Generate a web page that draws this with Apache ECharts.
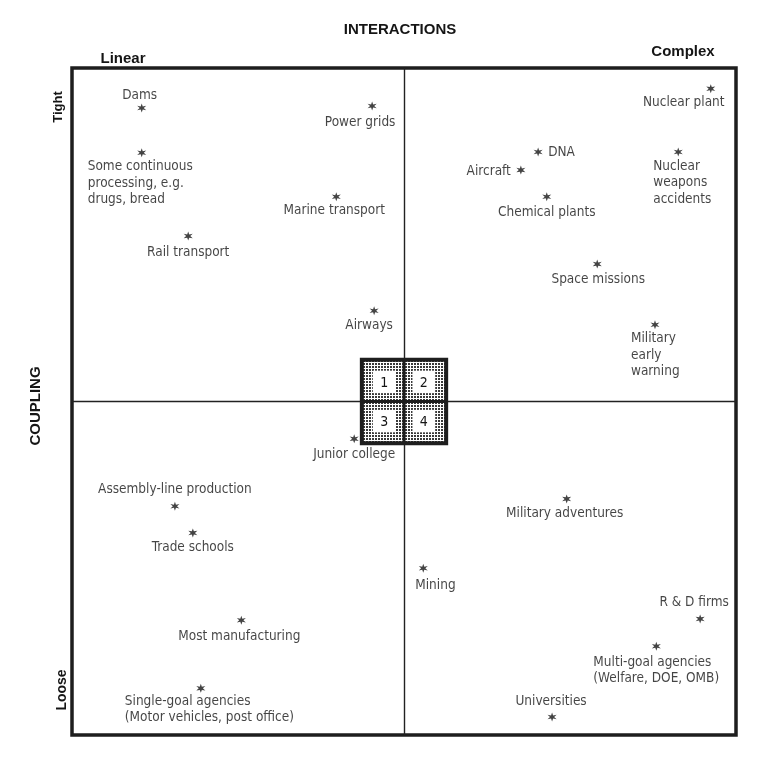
<!DOCTYPE html>
<html>
<head>
<meta charset="utf-8">
<script src="https://cdn.jsdelivr.net/npm/echarts@6/dist/echarts.min.js"></script>
<style>html,body{margin:0;padding:0;background:#fff}#chart{width:769px;height:770px}</style>
</head>
<body>
<div id="chart"></div>
<script>
// ---- data: interaction complexity (x, 0..10) vs coupling tightness (y, 0..10)
const systems = [
  "Dams", "Some continuous\nprocessing, e.g.\ndrugs, bread", "Rail transport", "Power grids",
  "Marine transport", "Airways", "DNA", "Aircraft", "Chemical plants", "Nuclear plant",
  "Nuclear\nweapons\naccidents", "Space missions", "Military\nearly\nwarning", "Junior college",
  "Assembly-line production", "Trade schools", "Military adventures", "Mining", "R & D firms",
  "Multi-goal agencies\n(Welfare, DOE, OMB)", "Most manufacturing",
  "Single-goal agencies\n(Motor vehicles, post office)", "Universities"
];
const interactions = [1.05, 1.05, 1.75, 4.52, 3.98, 4.55, 7.02, 6.76, 7.15, 9.62, 9.13, 7.91, 8.78, 4.25, 1.55, 1.82, 7.45, 5.29, 9.46, 8.80, 2.55, 1.94, 7.23];
const coupling     = [9.40, 8.73, 7.48, 9.43, 8.07, 6.36, 8.74, 8.47, 8.07, 9.69, 8.74, 7.06, 6.15, 4.44, 3.43, 3.03, 3.54, 2.50, 1.74, 1.33, 1.72, 0.70, 0.27];
const quadrantCenter = [5, 5];
const quadrantNumbers = ["1", "2", "3", "4"];
const xAxisTitle = "INTERACTIONS", yAxisTitle = "COUPLING";
const xEnds = ["Linear", "Complex"], yEnds = ["Tight", "Loose"];

// ---- label placement (style only): [align, dx, dy of first line centre]
const labelPlace = [
  ["center", -2, -13], ["left", -54, 14], ["center", 0, 16], ["center", -12, 16],
  ["center", -2, 14], ["center", -5, 15], ["left", 10, 0], ["right", -10, 1],
  ["center", 0, 16], ["center", -27, 14], ["left", -25, 14], ["center", 1, 15],
  ["left", -24, 14], ["center", 0, 16], ["center", 0, -17], ["center", 0, 15],
  ["center", -2, 15], ["left", -8, 17], ["center", -6, -16], ["left", -63, 16],
  ["center", -2, 16], ["left", -76, 13], ["center", -1, -15]
];

const LH = 16.5;
const FONT = '"DejaVu Sans Condensed","Liberation Sans Narrow","Roboto Condensed",sans-serif';
const INK = '#151515';
const STAR = 'path://M10 0 L12 6.5 L18.66 5 L14 10 L18.66 15 L12 13.5 L10 20 L8 13.5 L1.34 15 L6 10 L1.34 5 L8 6.5 Z';

const points = systems.map((n, i) => ({
  name: n,
  value: [interactions[i], coupling[i]],
  label: {
    show: true, position: 'inside', align: labelPlace[i][0], verticalAlign: 'top',
    offset: [labelPlace[i][1], labelPlace[i][2] - LH / 2]
  }
}));

// stipple pattern
const pc = document.createElement('canvas');
pc.width = 3; pc.height = 3;
const pctx = pc.getContext('2d');
pctx.fillStyle = '#fff'; pctx.fillRect(0, 0, 3, 3);
pctx.fillStyle = '#3a3a3a';
pctx.fillRect(0, 0, 2, 2);

const chart = echarts.init(document.getElementById('chart'), null, {renderer: 'canvas'});
const titleFont = 'bold 15px "Liberation Sans", Arial, sans-serif';
chart.setOption({
  backgroundColor: '#fff',
  animation: false,
  grid: {left: 72, top: 68, width: 664, height: 667, show: true, borderWidth: 3.5, borderColor: '#1e1e1e', backgroundColor: 'transparent'},
  xAxis: {type: 'value', min: 0, max: 10, show: false},
  yAxis: {type: 'value', min: 0, max: 10, show: false},
  graphic: [
    {type: 'text', x: 400, y: 30, style: {text: xAxisTitle, font: titleFont, fill: INK, align: 'center', verticalAlign: 'middle'}},
    {type: 'text', x: 123, y: 59, style: {text: xEnds[0], font: titleFont, fill: INK, align: 'center', verticalAlign: 'middle'}},
    {type: 'text', x: 683, y: 52, style: {text: xEnds[1], font: titleFont, fill: INK, align: 'center', verticalAlign: 'middle'}},
    {type: 'text', x: 36, y: 406, rotation: Math.PI / 2, style: {text: yAxisTitle, font: titleFont, fill: INK, align: 'center', verticalAlign: 'middle'}},
    {type: 'text', x: 58, y: 107, rotation: Math.PI / 2, style: {text: yEnds[0], font: 'bold 13px "Liberation Sans", Arial, sans-serif', fill: INK, align: 'center', verticalAlign: 'middle'}},
    {type: 'text', x: 62, y: 690, rotation: Math.PI / 2, style: {text: yEnds[1], font: 'bold 14px "Liberation Sans", Arial, sans-serif', fill: INK, align: 'center', verticalAlign: 'middle'}}
  ],
  series: [
    {
      type: 'scatter',
      symbol: STAR,
      symbolSize: 9,
      itemStyle: {color: INK},
      label: {color: INK, fontFamily: FONT, fontSize: 13.5, lineHeight: LH, formatter: p => p.name},
      data: points,
      markLine: {
        silent: true, symbol: 'none', animation: false,
        lineStyle: {color: '#222', width: 1.4, type: 'solid'},
        label: {show: false},
        data: [{xAxis: quadrantCenter[0]}, {yAxis: quadrantCenter[1]}]
      },
      z: 3
    },
    {
      type: 'custom',
      z: 5,
      data: [quadrantCenter],
      renderItem: function (params, api) {
        const c = api.coord([api.value(0), api.value(1)]);
        const s = api.size([1.27, 1.25]);
        const w = s[0], h = s[1];
        const x0 = c[0] - w / 2, y0 = c[1] - h / 2;
        const off = [w * 0.235, h * 0.235], sq = [w * 0.27, h * 0.27];
        const centers = [[c[0] - off[0], c[1] - off[1]], [c[0] + off[0], c[1] - off[1]], [c[0] - off[0], c[1] + off[1]], [c[0] + off[0], c[1] + off[1]]];
        const children = [
          {type: 'rect', shape: {x: x0, y: y0, width: w, height: h}, style: {fill: {image: pc, repeat: 'repeat'}, stroke: '#1e1e1e', lineWidth: 4}},
          {type: 'line', shape: {x1: c[0], y1: y0, x2: c[0], y2: y0 + h}, style: {stroke: '#1e1e1e', lineWidth: 3}},
          {type: 'line', shape: {x1: x0, y1: c[1], x2: x0 + w, y2: c[1]}, style: {stroke: '#1e1e1e', lineWidth: 3}}
        ];
        centers.forEach((ct, k) => {
          children.push({type: 'rect', shape: {x: ct[0] - sq[0] / 2, y: ct[1] - sq[1] / 2, width: sq[0], height: sq[1]}, style: {fill: '#fff'}});
          children.push({type: 'text', x: ct[0], y: ct[1] + 1, style: {text: quadrantNumbers[k], font: '14px ' + FONT, fill: INK, align: 'center', verticalAlign: 'middle'}});
        });
        return {type: 'group', children: children};
      }
    }
  ]
});
</script>
</body>
</html>
